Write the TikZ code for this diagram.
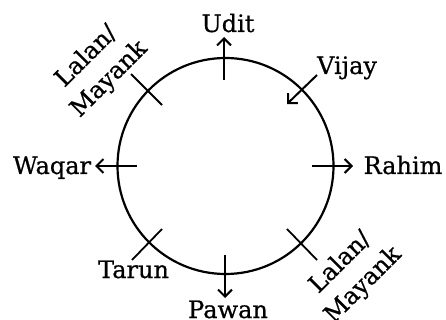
\documentclass[tikz,border=0pt]{standalone}
\usepackage{fontspec}
\setmainfont{DejaVu Serif}[FakeBold=0.6]
\usetikzlibrary{arrows.meta}
\begin{document}
\begin{tikzpicture}[x=1pt,y=-1pt,
  lbl/.style={font=\fontsize{24}{32}\selectfont, inner sep=0pt, anchor=base},
  rlbl/.style={font=\fontsize{24}{32}\selectfont, inner sep=0pt, align=center, rotate=45},
  arr/.style={line width=2pt, -{Straight Barb[length=7pt,width=14pt]}},
  tickmark/.style={line width=1.8pt},
  ring/.style={circle, draw, line width=2.2pt, minimum size=216pt, inner sep=0pt}]
\useasboundingbox (0,0) rectangle (446,320);
\node[ring] (c) at (225.5,166) {};
% arrows
\coordinate (u1) at (224,80);  \coordinate (u2) at (224,37);
\coordinate (v1) at (317,75);  \coordinate (v2) at (287,104);
\coordinate (w1) at (137,166); \coordinate (w2) at (95,166);
\coordinate (r1) at (312,166); \coordinate (r2) at (353,166);
\coordinate (p1) at (225,255); \coordinate (p2) at (225,298);
\draw[arr] (u1) -- (u2);
\draw[arr] (v1) -- (v2);
\draw[arr] (w1) -- (w2);
\draw[arr] (r1) -- (r2);
\draw[arr] (p1) -- (p2);
% ticks
\coordinate (a1) at (131,74);  \coordinate (a2) at (162,105);
\coordinate (b1) at (162,229); \coordinate (b2) at (132,260);
\coordinate (d1) at (287,229); \coordinate (d2) at (317,260);
\draw[tickmark] (a1) -- (a2);
\draw[tickmark] (b1) -- (b2);
\draw[tickmark] (d1) -- (d2);
% labels
\node[lbl] (udit) at (228,32) {Udit};
\node[lbl] (vijay) at (347,74) {Vijay};
\node[lbl] (waqar) at (52,174) {Waqar};
\node[lbl] (rahim) at (403,174) {Rahim};
\node[lbl] (tarun) at (133.5,278) {Tarun};
\node[lbl] (pawan) at (228,318) {Pawan};
\node[rlbl] (lm1) at (98,68) {Lalan/\\Mayank};
\node[rlbl] (lm2) at (352,274) {Lalan/\\Mayank};
\end{tikzpicture}
\end{document}
